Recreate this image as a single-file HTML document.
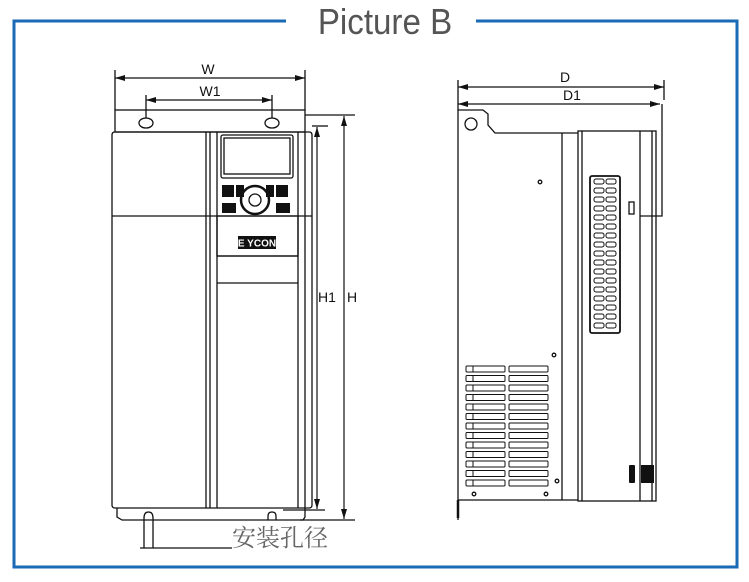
<!DOCTYPE html>
<html><head><meta charset="utf-8"><style>
html,body{margin:0;padding:0;background:#fff;width:749px;height:582px;overflow:hidden}
svg{display:block}
</style></head><body>
<svg width="749" height="582" viewBox="0 0 749 582" xmlns="http://www.w3.org/2000/svg" font-family="Liberation Sans, sans-serif">
<defs>
<marker id="a" viewBox="0 0 10 6" refX="10" refY="3" markerWidth="10" markerHeight="6" orient="auto-start-reverse" markerUnits="userSpaceOnUse"><path d="M0,0L10,3L0,6z" fill="#111"/></marker>
</defs>
<!-- frame -->
<path d="M286,21H14V567H737V21H476" fill="none" stroke="#1a6ab5" stroke-width="3"/>
<text x="385" y="34" text-anchor="middle" font-size="36" fill="#555" transform="translate(385 0) scale(0.92 1) translate(-385 0)">Picture B</text>

<g fill="none" stroke="#111" stroke-width="1.3">
<!-- FRONT VIEW -->
<rect x="115" y="110" width="190" height="22"/>
<ellipse cx="146" cy="123" rx="7" ry="5"/>
<ellipse cx="272" cy="123" rx="7" ry="5"/>
<path d="M115,132H309Q312,132 312,135V505Q312,508 309,508H115Q112,508 112,505V135Q112,132 115,132Z"/>
<line x1="206" y1="132" x2="206" y2="508"/>
<line x1="210" y1="132" x2="210" y2="508"/>
<line x1="217" y1="132" x2="217" y2="508"/>
<line x1="298" y1="132" x2="298" y2="508"/>
<line x1="305" y1="132" x2="305" y2="508"/>
<line x1="112" y1="216" x2="312" y2="216"/>
<rect x="221" y="135" width="72" height="43" rx="2"/>
<rect x="224" y="138" width="66" height="36"/>
<rect x="217" y="216" width="81" height="40"/>
<line x1="217" y1="256" x2="298" y2="256"/>
<line x1="217" y1="283" x2="298" y2="283"/>
<circle cx="255" cy="200" r="14" stroke-width="2.5"/>
<circle cx="255" cy="200" r="6"/>
<path d="M117,508V517L122,520H303L305,517V508"/>
<path d="M144,548V518Q144,512 148.5,512Q153,512 153,518V548M140,548H232"/>
<path d="M268,520V516Q268,512 272,512Q276,512 276,516V520"/>
<!-- dimension front -->
<line x1="115" y1="70" x2="115" y2="110"/>
<line x1="305" y1="70" x2="305" y2="110"/>
<line x1="146" y1="95" x2="146" y2="118"/>
<line x1="272" y1="95" x2="272" y2="118"/>
<line x1="312" y1="126" x2="328" y2="126"/>
<line x1="305" y1="115" x2="355" y2="115"/>
<line x1="283" y1="510" x2="325" y2="510"/>
<line x1="300" y1="520" x2="355" y2="520"/>
</g>
<g stroke="#111" stroke-width="1.2">
<line x1="115" y1="78" x2="305" y2="78" marker-start="url(#a)" marker-end="url(#a)"/>
<line x1="146" y1="100" x2="272" y2="100" marker-start="url(#a)" marker-end="url(#a)"/>
<line x1="317" y1="127" x2="317" y2="509" marker-start="url(#a)" marker-end="url(#a)"/>
<line x1="344" y1="116" x2="344" y2="519" marker-start="url(#a)" marker-end="url(#a)"/>
<line x1="458" y1="87" x2="664" y2="87" marker-start="url(#a)" marker-end="url(#a)"/>
<line x1="458" y1="104" x2="660" y2="104" marker-start="url(#a)" marker-end="url(#a)"/>
</g>
<!-- keypad blobs -->
<g fill="#111">
<rect x="222" y="185" width="12" height="12"/><rect x="276" y="185" width="12" height="12"/>
<rect x="236" y="185" width="8" height="12"/><rect x="266" y="185" width="8" height="12"/>
<rect x="222" y="203" width="14" height="10"/><rect x="276" y="203" width="14" height="10"/>
<rect x="238" y="236" width="38" height="13"/>
</g>
<text x="257" y="246.5" text-anchor="middle" font-size="10" fill="#fff" font-weight="bold">E YCON</text>
<g font-size="14" fill="#111">
<text x="208" y="74" text-anchor="middle">W</text>
<text x="210" y="96" text-anchor="middle">W1</text>
<text x="318" y="302">H1</text>
<text x="347" y="302">H</text>
<text x="565" y="82" text-anchor="middle">D</text>
<text x="572" y="100" text-anchor="middle">D1</text>
</g>
<text x="232" y="546" font-size="24" fill="#666" font-family="Noto Serif CJK SC, serif">安装孔径</text>

<!-- SIDE VIEW -->
<g fill="none" stroke="#111" stroke-width="1.3">
<line x1="458" y1="80" x2="458" y2="110"/>
<line x1="664" y1="80" x2="664" y2="100"/>
<path d="M458,520V110H483L488,114V125L495,133H578"/>
<circle cx="471" cy="124" r="6"/>
<line x1="458" y1="500" x2="578" y2="500"/>
<line x1="562" y1="133" x2="562" y2="500"/>
<rect x="578" y="131" width="78" height="370"/>
<line x1="582" y1="131" x2="582" y2="501"/>
<line x1="640" y1="131" x2="640" y2="501"/>
<line x1="652" y1="131" x2="652" y2="501"/>
<path d="M640,216H662V104"/>
<rect x="590" y="176" width="30" height="157" rx="2" stroke-width="1.8"/>
<rect x="629" y="202" width="5" height="12"/>
<circle cx="540" cy="182" r="1.8"/>
<circle cx="554" cy="355" r="1.8"/>
<circle cx="557" cy="481" r="1.8"/>
<circle cx="474" cy="494" r="1.8"/>
<circle cx="546" cy="494" r="1.8"/>
<line x1="458" y1="500" x2="458" y2="518" stroke-width="2.5"/>
</g>
<g fill="none" stroke="#111" stroke-width="1">
<!-- slots in vent -->
<g id="vs">
<rect x="594" y="179" width="10" height="5" rx="2"/><rect x="606" y="179" width="10" height="5" rx="2"/>
</g>
<use href="#vs" y="9"/><use href="#vs" y="18"/><use href="#vs" y="27"/><use href="#vs" y="36"/><use href="#vs" y="45"/>
<use href="#vs" y="54"/><use href="#vs" y="63"/><use href="#vs" y="72"/><use href="#vs" y="81"/><use href="#vs" y="90"/>
<use href="#vs" y="99"/><use href="#vs" y="108"/><use href="#vs" y="117"/><use href="#vs" y="126"/><use href="#vs" y="135"/><use href="#vs" y="144"/>
<!-- lower vents -->
<g id="lv">
<rect x="466" y="366" width="39" height="6" rx="1"/><rect x="509" y="366" width="39" height="6" rx="1"/>
<line x1="473" y1="366" x2="473" y2="372"/>
</g>
<use href="#lv" y="9.5"/><use href="#lv" y="19"/><use href="#lv" y="28.5"/><use href="#lv" y="38"/><use href="#lv" y="47.5"/>
<use href="#lv" y="57"/><use href="#lv" y="66.5"/><use href="#lv" y="76"/><use href="#lv" y="85.5"/><use href="#lv" y="95"/>
<use href="#lv" y="104.5"/><use href="#lv" y="114"/>
</g>
<g fill="#111">
<rect x="629" y="465" width="6" height="18" rx="1"/>
<rect x="641" y="465" width="13" height="18"/>
</g>
</svg>
</body></html>
